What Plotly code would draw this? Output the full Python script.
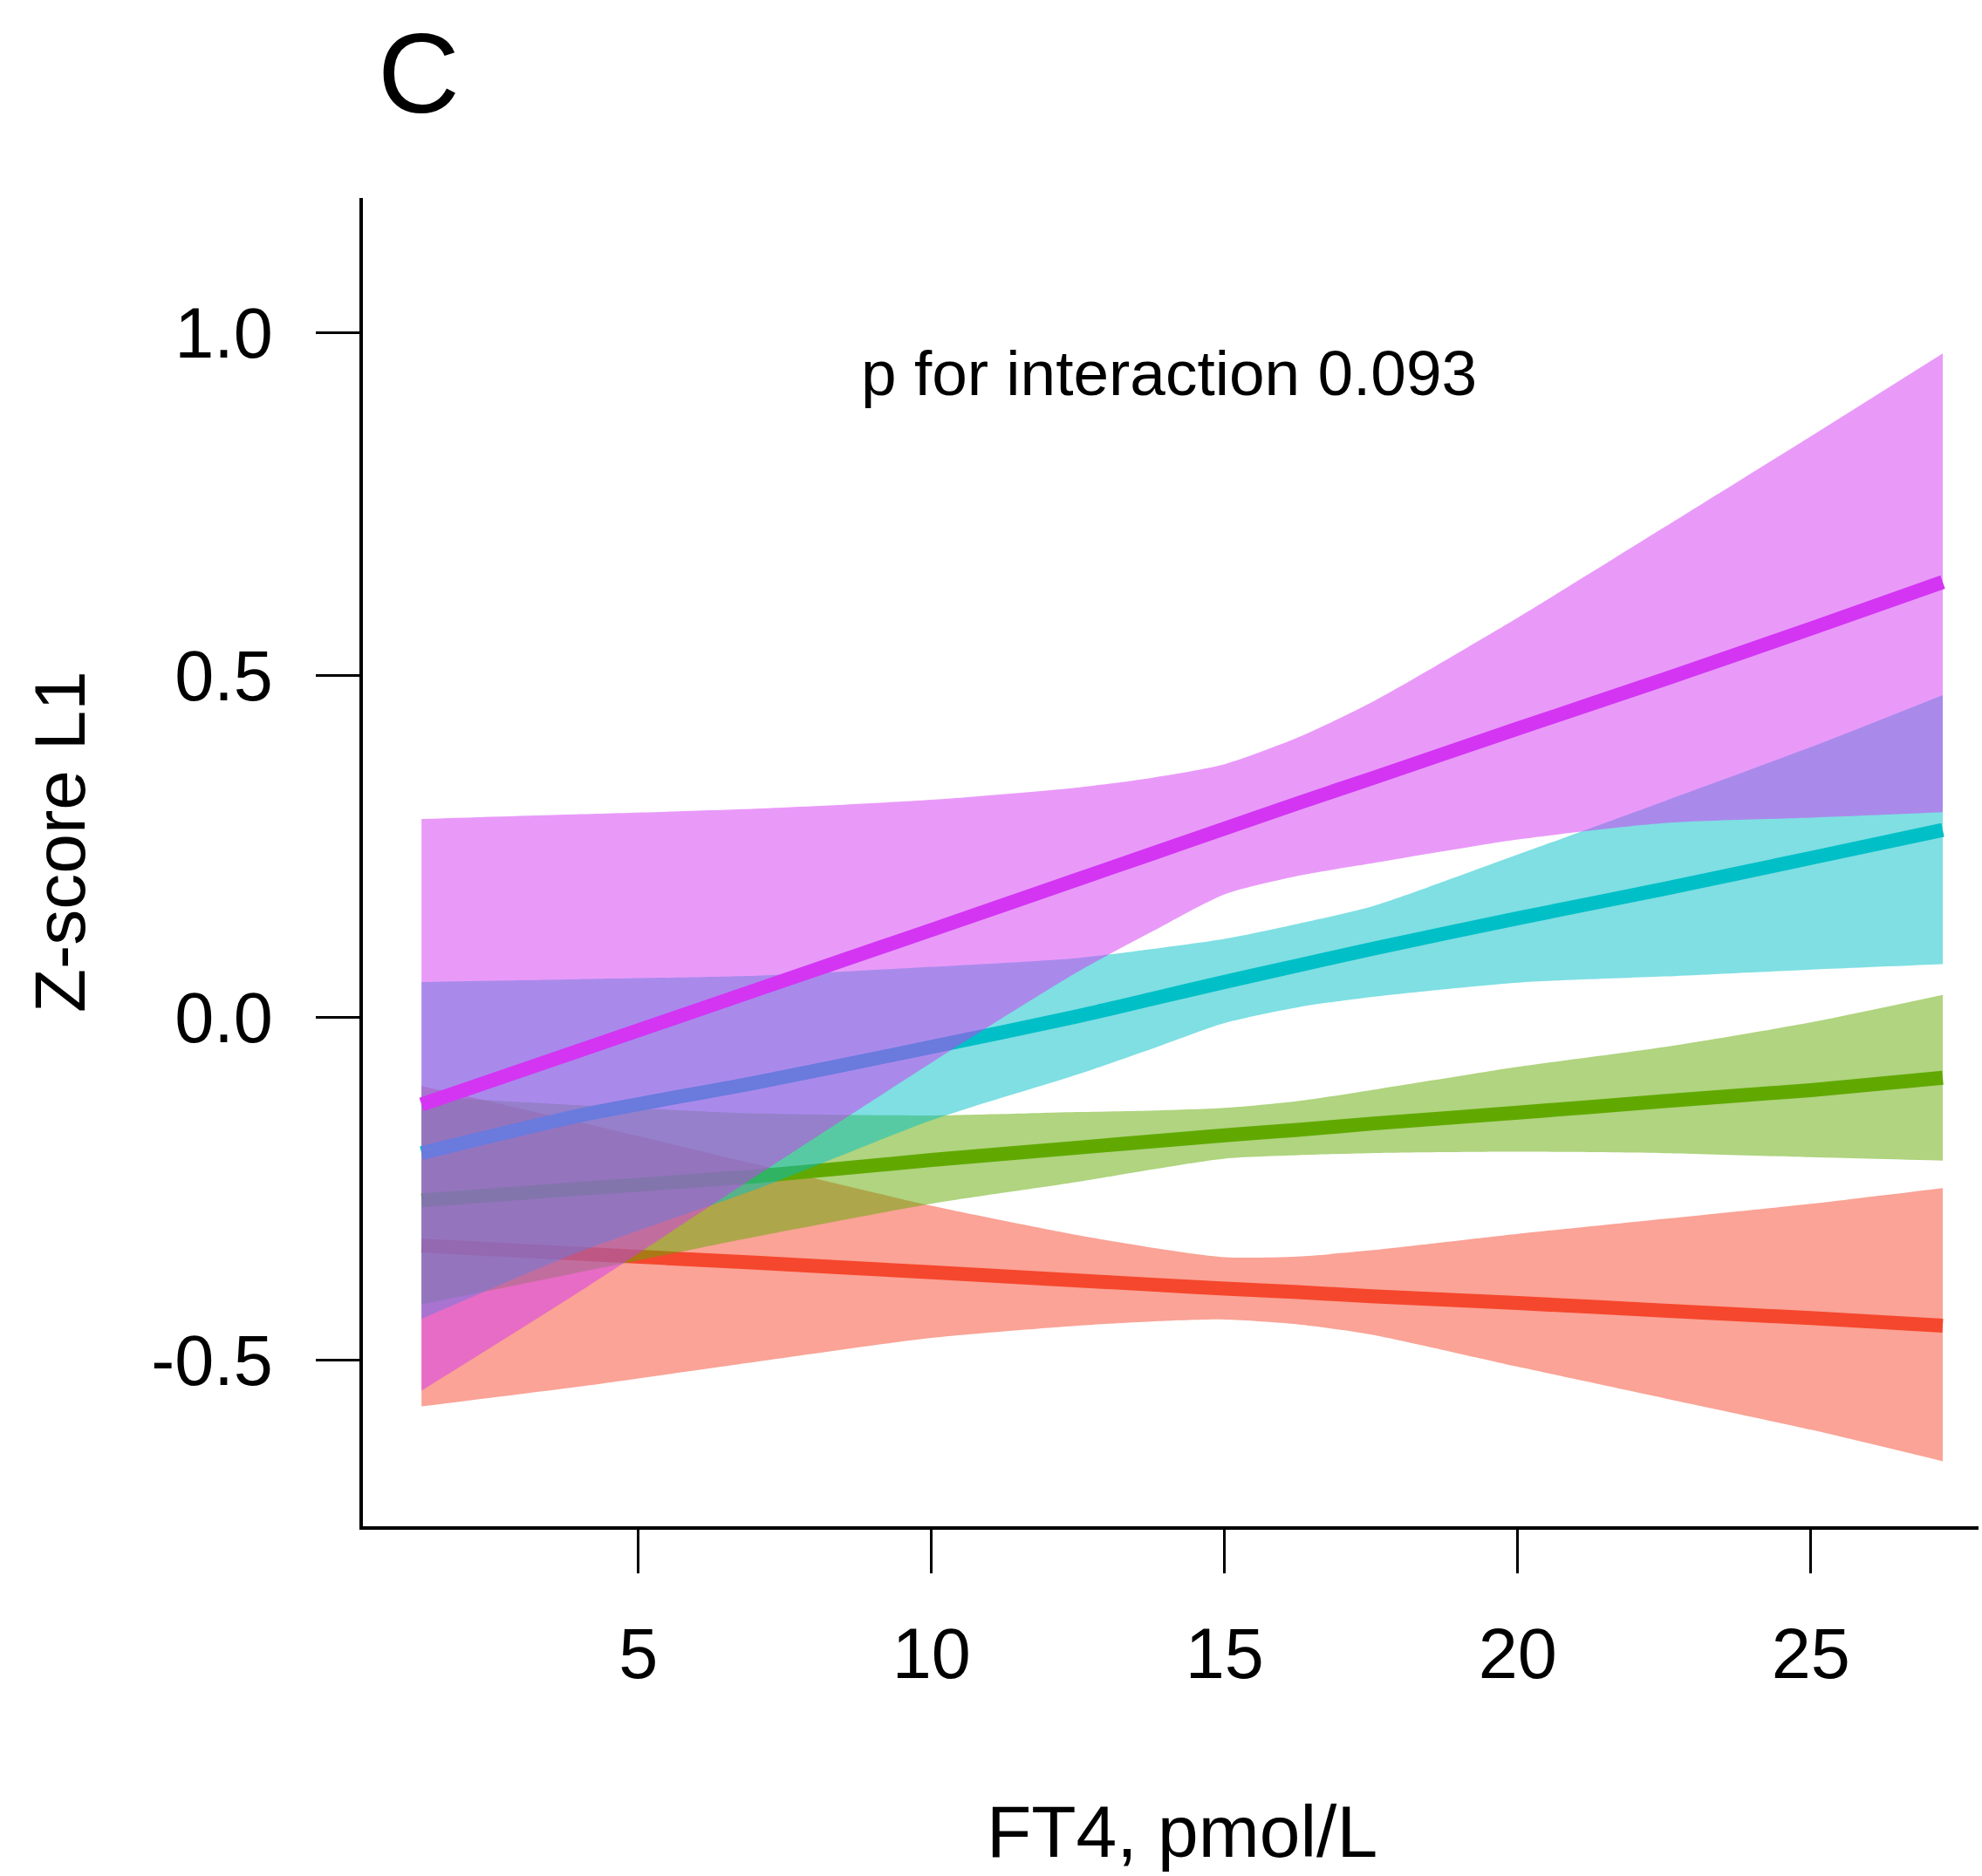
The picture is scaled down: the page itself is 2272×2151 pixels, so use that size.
import plotly.graph_objects as go

# ---- data ----
ft4 = [1.3, 4, 7, 10, 12.5, 13.75, 15, 16.25, 17.5, 20, 22.5, 25, 27.25]

red_fit   = [-0.333, -0.345, -0.358, -0.372, -0.384, -0.390, -0.396, -0.401, -0.407, -0.417, -0.428, -0.439, -0.450]
red_upper = [-0.100, -0.153, -0.214, -0.275, -0.318, -0.336, -0.350, -0.349, -0.340, -0.316, -0.294, -0.272, -0.249]
red_lower = [-0.568, -0.539, -0.503, -0.468, -0.450, -0.444, -0.441, -0.448, -0.463, -0.510, -0.556, -0.602, -0.648]

green_fit   = [-0.267, -0.250, -0.232, -0.208, -0.190, -0.181, -0.172, -0.164, -0.155, -0.139, -0.122, -0.106, -0.088]
green_upper = [-0.115, -0.128, -0.140, -0.143, -0.138, -0.136, -0.132, -0.122, -0.106, -0.072, -0.043, -0.007, 0.033]
green_lower = [-0.419, -0.372, -0.320, -0.272, -0.240, -0.222, -0.206, -0.201, -0.198, -0.196, -0.198, -0.204, -0.209]

cyan_fit   = [-0.198, -0.143, -0.095, -0.043, 0.002, 0.027, 0.052, 0.076, 0.100, 0.145, 0.188, 0.233, 0.274]
cyan_upper = [0.052, 0.056, 0.061, 0.074, 0.087, 0.100, 0.115, 0.137, 0.162, 0.238, 0.316, 0.395, 0.471]
cyan_lower = [-0.440, -0.342, -0.251, -0.150, -0.083, -0.046, -0.008, 0.015, 0.030, 0.051, 0.060, 0.070, 0.078]

pink_fit   = [-0.127, -0.048, 0.040, 0.128, 0.202, 0.239, 0.276, 0.313, 0.349, 0.422, 0.494, 0.568, 0.636]
pink_upper = [0.290, 0.297, 0.305, 0.318, 0.336, 0.350, 0.370, 0.409, 0.460, 0.584, 0.716, 0.849, 0.970]
pink_lower = [-0.545, -0.400, -0.232, -0.066, 0.067, 0.125, 0.180, 0.207, 0.225, 0.260, 0.284, 0.292, 0.300]

x_ticks = [5, 10, 15, 20, 25]
y_ticks = [-0.5, 0.0, 0.5, 1.0]
y_ticktext = ["-0.5", "0.0", "0.5", "1.0"]

groups = [
    ("red", red_lower, red_upper, red_fit, (245, 71, 45)),
    ("green", green_lower, green_upper, green_fit, (97, 169, 0)),
    ("cyan", cyan_lower, cyan_upper, cyan_fit, (0, 191, 199)),
    ("pink", pink_lower, pink_upper, pink_fit, (211, 53, 243)),
]

FONT = "Liberation Sans, Arial, sans-serif"

fig = go.Figure()
for name, lo, up, fit, (r, g, b) in groups:
    fig.add_trace(go.Scatter(x=ft4, y=lo, mode="lines", line=dict(width=0, shape="spline", smoothing=0.7),
                             hoverinfo="skip", showlegend=False))
    fig.add_trace(go.Scatter(x=ft4, y=up, mode="lines", line=dict(width=0, shape="spline", smoothing=0.7),
                             fill="tonexty", fillcolor=f"rgba({r},{g},{b},0.5)",
                             hoverinfo="skip", showlegend=False))
    fig.add_trace(go.Scatter(x=ft4, y=fit, mode="lines",
                             line=dict(width=16, color=f"rgb({r},{g},{b})", shape="spline", smoothing=0.7),
                             name=name, showlegend=False))

fig.update_layout(
    width=2272, height=2151,
    margin=dict(l=416, r=4, t=227, b=401),
    paper_bgcolor="white", plot_bgcolor="white",
    font=dict(family=FONT, color="black", size=81),
    showlegend=False,
    xaxis=dict(range=[0.30, 27.86], tickmode="array", tickvals=x_ticks,
               ticks="outside", ticklen=50, tickwidth=3, tickcolor="black",
               showline=True, linecolor="black", linewidth=4,
               showgrid=False, zeroline=False, ticklabelstandoff=23,
               tickfont=dict(size=81, family=FONT)),
    yaxis=dict(range=[-0.743, 1.197], tickmode="array", tickvals=y_ticks, ticktext=y_ticktext,
               ticks="outside", ticklen=50, tickwidth=3, tickcolor="black",
               showline=True, linecolor="black", linewidth=4,
               showgrid=False, zeroline=False, ticklabelstandoff=33,
               tickfont=dict(size=81, family=FONT)),
    annotations=[
        dict(text="FT4, pmol/L", xref="paper", yref="paper", x=0.507, y=-0.2298,
             xanchor="center", yanchor="middle", showarrow=False, font=dict(size=84, family=FONT)),
        dict(text="Z-score L1", xref="paper", yref="paper", x=-0.1879, y=0.5154, textangle=-90,
             xanchor="center", yanchor="middle", showarrow=False, font=dict(size=82, family=FONT)),
        dict(text="p for interaction 0.093", xref="x", yref="y", x=14.05, y=0.941,
             xanchor="center", yanchor="middle", showarrow=False, font=dict(size=73, family=FONT)),
        dict(text="C", xref="paper", yref="paper", x=0.0346, y=1.0939,
             xanchor="center", yanchor="middle", showarrow=False, font=dict(size=130, family=FONT)),
    ],
)

fig.write_html("out.html", config={"displayModeBar": False},
               post_script="document.body.style.margin='0';")
